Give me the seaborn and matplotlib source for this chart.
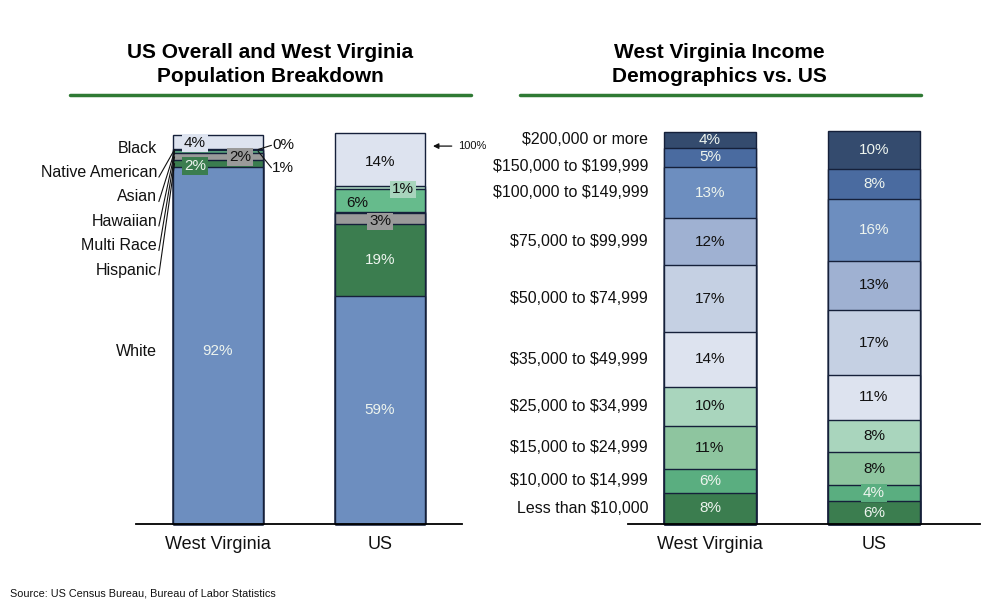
import numpy as np
import pandas as pd
import matplotlib
matplotlib.use("Agg")
import matplotlib.pyplot as plt
import seaborn as sns
from matplotlib.lines import Line2D

# ---- data ----
regions = ['West Virginia', 'US']

# population breakdown, stacked bottom -> top
races = ['White', 'Hispanic', 'Multi Race', 'Hawaiian', 'Asian', 'Native American', 'Black']
wv_race = [92.1, 1.6, 1.9, 0.03, 0.8, 0.2, 3.6]
us_race = [58.7, 18.7, 2.8, 0.2, 5.9, 0.9, 13.6]
race_colors = ['#6d8ebf', '#3b7d4f', '#9a9a9a', '#2a2a2a', '#66bb8c', '#a8d5bd', '#dde3ef']

# income brackets, stacked bottom -> top
brackets = ['Less than $10,000', '$10,000 to $14,999', '$15,000 to $24,999',
            '$25,000 to $34,999', '$35,000 to $49,999', '$50,000 to $74,999',
            '$75,000 to $99,999', '$100,000 to $149,999', '$150,000 to $199,999',
            '$200,000 or more']
wv_income = [8, 6, 11, 10, 14, 17, 12, 13, 5, 4]
us_income = [5.8, 4.1, 8.4, 8.3, 11.4, 16.6, 12.6, 15.6, 7.8, 9.6]
income_colors = ['#3b7d4f', '#5aae80', '#8ec59f', '#a9d5bd', '#dde3ef',
                 '#c5d0e3', '#9fb1d2', '#6d8ebf', '#4a6ba0', '#344b6e']

LIGHT = '#edf4ee'
DARK = '#111111'

sns.set_style('white')
plt.rcParams['font.family'] = ['Liberation Sans', 'DejaVu Sans']
plt.rcParams['text.parse_math'] = False
plt.rcParams['text.color'] = DARK
plt.rcParams['xtick.color'] = DARK


def stacked(ax, wv, us, colors, width):
    # draw cumulative bars from the top layer down so each layer shows its own slice
    cum = np.cumsum(np.array([wv, us]), axis=1)
    for i in range(cum.shape[1] - 1, -1, -1):
        df = pd.DataFrame({'region': regions, 'cum': cum[:, i]})
        sns.barplot(data=df, x='region', y='cum', color=colors[i], width=width,
                    saturation=1, edgecolor='#15203a', linewidth=1.0,
                    errorbar=None, ax=ax)
    return cum


def style_axis(ax, xlim, ylim):
    ax.set_xlim(*xlim)
    ax.set_ylim(*ylim)
    for s in ['left', 'right', 'top']:
        ax.spines[s].set_visible(False)
    ax.spines['bottom'].set_color('black')
    ax.spines['bottom'].set_linewidth(1.3)
    ax.set_yticks([])
    ax.set_xlabel('')
    ax.set_ylabel('')
    ax.tick_params(axis='x', length=0, labelsize=13, pad=8.5, labelcolor=DARK)
    for p in ax.patches:
        p.set_clip_on(False)


def seg_label(ax, x, y, val, color, box=None):
    bb = None
    if box is not None:
        bb = dict(boxstyle='square,pad=0.12', fc=box, ec='none')
    ax.text(x, y, '{:.0f}%'.format(val), ha='center', va='center',
            fontsize=11, color=color, bbox=bb, zorder=5, clip_on=False)


fig = plt.figure(figsize=(10.08, 6.10), dpi=100)

# ---------------- left panel: population ----------------
ax1 = fig.add_axes([136 / 1008, 86 / 610, 326 / 1008, 388 / 610])
cum1 = stacked(ax1, wv_race, us_race, race_colors, 0.556)
style_axis(ax1, (-0.506, 1.506), (0, 100))
mid1 = cum1 - np.array([wv_race, us_race]) / 2

# West Virginia labels
seg_label(ax1, 0, mid1[0, 0] - 1.5, wv_race[0], LIGHT)
seg_label(ax1, -0.142, mid1[0, 1] - 0.6, wv_race[1], LIGHT, race_colors[1])
seg_label(ax1, 0.136, mid1[0, 2], wv_race[2], DARK, race_colors[2])
seg_label(ax1, -0.142, mid1[0, 6] - 0.2, wv_race[6], DARK, race_colors[6])
# thin slices labelled to the right with leader lines
bar_r = 0.278
for idx, ly in [(5, 97.6), (4, 91.8)]:
    ax1.plot([bar_r - 0.03, 0.33], [mid1[0, idx], ly], color=DARK, lw=0.8, clip_on=False)
    ax1.text(0.335, ly, '{:.0f}%'.format(wv_race[idx]), ha='left', va='center',
             fontsize=11, color=DARK, clip_on=False)

# US labels
seg_label(ax1, 1, mid1[1, 0], us_race[0], LIGHT)
seg_label(ax1, 1, mid1[1, 1], us_race[1], LIGHT)
seg_label(ax1, 1, mid1[1, 2] - 0.8, us_race[2], DARK, race_colors[2])
seg_label(ax1, 1 - 0.142, mid1[1, 4] - 0.6, us_race[4], DARK)
seg_label(ax1, 1 + 0.142, mid1[1, 5] - 0.5, us_race[5], DARK, race_colors[5])
seg_label(ax1, 1, mid1[1, 6] - 0.8, us_race[6], DARK)

# race names to the left of the West Virginia bar
bar_l = -0.278
name_x = -0.375
for k, idx in enumerate([6, 5, 4, 3, 2, 1]):
    ly = 96.9 - 6.3 * k
    ax1.text(name_x, ly, races[idx], ha='right', va='center', fontsize=11.5,
             color=DARK, clip_on=False)
    if idx != 6:
        ax1.plot([name_x + 0.01, bar_l + 0.01], [ly - 1.2, mid1[0, idx]],
                 color=DARK, lw=0.8, clip_on=False)
ax1.text(name_x, mid1[0, 0] - 1.5, races[0], ha='right', va='center', fontsize=11.5,
         color=DARK, clip_on=False)

ax1.annotate('100%', xy=(1.327, 97.4), xytext=(1.48, 97.4), fontsize=8,
             va='center', ha='left', color=DARK,
             arrowprops=dict(arrowstyle='-|>', color=DARK, lw=0.9,
                             shrinkA=2, shrinkB=0, mutation_scale=8))

# ---------------- right panel: income ----------------
ax2 = fig.add_axes([628 / 1008, 86 / 610, 352 / 1008, 392 / 610])
cum2 = stacked(ax2, wv_income, us_income, income_colors, 0.56)
style_axis(ax2, (-0.5, 1.646), (0, 100))
mid2 = cum2 - np.array([wv_income, us_income]) / 2

light_idx = [0, 1, 7, 8, 9]
for r in range(2):
    vals = wv_income if r == 0 else us_income
    for i in range(len(brackets)):
        col = LIGHT if i in light_idx else DARK
        box = income_colors[1] if (r == 1 and i == 1) else None
        seg_label(ax2, r, mid2[r, i], vals[i], col, box)

for i, name in enumerate(brackets):
    ly = mid2[0, i]
    if i == 8:
        ly -= 2.2
    ax2.text(-0.378, ly, name, ha='right', va='center', fontsize=11.5,
             color=DARK, clip_on=False)

ax2.annotate('100%', xy=(1.33, 100.3), xytext=(1.476, 100.3), fontsize=8,
             va='center', ha='left', color=DARK,
             arrowprops=dict(arrowstyle='-|>', color=DARK, lw=0.9,
                             shrinkA=2, shrinkB=0, mutation_scale=8))

# ---------------- titles, rules, source ----------------
fig.text(270 / 1008, 1 - 64.5 / 610, 'US Overall and West Virginia\nPopulation Breakdown',
         ha='center', va='center', fontsize=15, fontweight='bold',
         color='black', linespacing=1.35)
fig.text(719 / 1008, 1 - 64.5 / 610, 'West Virginia Income\nDemographics vs. US',
         ha='center', va='center', fontsize=15, fontweight='bold',
         color='black', linespacing=1.35)
for x0, x1 in [(70, 471), (520, 921)]:
    fig.add_artist(Line2D([x0 / 1008, x1 / 1008], [1 - 95 / 610, 1 - 95 / 610],
                          color='#2f7a34', lw=2.5))

fig.text(10 / 1008, 1 - 593 / 610, 'Source: US Census Bureau, Bureau of Labor Statistics',
         ha='left', va='center', fontsize=7.8, color=DARK)

fig.savefig('out.png', dpi=100)
